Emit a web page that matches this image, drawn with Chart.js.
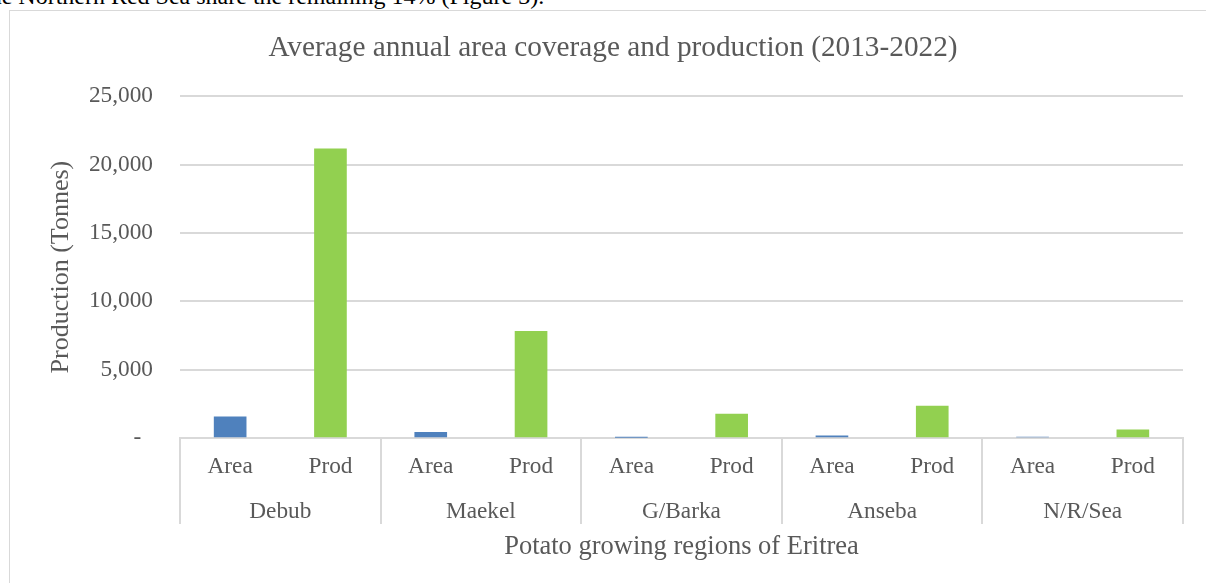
<!DOCTYPE html>
<html>
<head>
<meta charset="utf-8">
<script src="https://cdn.jsdelivr.net/npm/chart.js@4.4.1/dist/chart.umd.min.js"></script>
<style>
  html, body { margin: 0; padding: 0; background: #fff; width: 1206px; height: 583px; overflow: hidden; position: relative; }
  #lead { position: absolute; left: -17px; top: -16px; font-family: "Liberation Serif", "Times New Roman", serif; font-size: 24px; line-height: 24px; color: #000; white-space: nowrap; }
  #frame { position: absolute; left: 9px; top: 10px; width: 1206px; height: 590px; border: 1px solid #d9d9d9; background: #fff; }
  #frame canvas { display: block; }
</style>
</head>
<body>
<div id="lead">the Northern Red Sea share the remaining 14% (Figure 3).</div>
<div id="frame"><canvas id="c" width="1206" height="590"></canvas></div>
<script>
// ---- data ----
const regions = ['Debub', 'Maekel', 'G/Barka', 'Anseba', 'N/R/Sea'];
const subLabels = ['Area', 'Prod'];
const areaValues = [1550, 415, 50, 150, 70];
const prodValues = [21150, 7800, 1750, 2340, 590];
const yTicks = [0, 5000, 10000, 15000, 20000, 25000];

const chartTitle = 'Average annual area coverage and production (2013-2022)';
const yTitle = 'Production (Tonnes)';
const xTitle = 'Potato growing regions of Eritrea';

// build category slots (region x sub-label)
const slotLabels = [];
const areaData = [];
const prodData = [];
regions.forEach((r, i) => {
  slotLabels.push(subLabels[0]); areaData.push(areaValues[i]); prodData.push(null);
  slotLabels.push(subLabels[1]); areaData.push(null); prodData.push(prodValues[i]);
});

const FONT = '"Liberation Serif", "Times New Roman", serif';
const GRAY = '#595959';
const LINE = '#d9d9d9';

const groupLines = {
  id: 'groupLines',
  afterDraw(chart) {
    const xs = chart.scales.x;
    const ctx = chart.ctx;
    const slot = (xs.right - xs.left) / slotLabels.length;
    const top = chart.chartArea.bottom;
    const bottom = top + 86;
    ctx.save();
    ctx.strokeStyle = LINE;
    ctx.lineWidth = 2;
    for (let g = 0; g <= regions.length; g++) {
      const px = Math.round(xs.left + g * subLabels.length * slot);
      ctx.beginPath();
      ctx.moveTo(px, top);
      ctx.lineTo(px, bottom);
      ctx.stroke();
    }
    ctx.restore();
  }
};

new Chart(document.getElementById('c'), {
  type: 'bar',
  data: {
    labels: slotLabels,
    datasets: [
      { label: 'Area', data: areaData, backgroundColor: '#4f81bd', borderWidth: 0, grouped: false, barThickness: 32 },
      { label: 'Prod', data: prodData, backgroundColor: '#92d050', borderWidth: 0, grouped: false, barThickness: 32 }
    ]
  },
  options: {
    responsive: false,
    animation: false,
    layout: { padding: { left: 0, right: 0, top: 0, bottom: 0 } },
    plugins: {
      legend: { display: false },
      tooltip: { enabled: false },
      title: {
        display: true,
        text: chartTitle,
        color: GRAY,
        font: { family: FONT, size: 29.3, weight: 'normal' },
        padding: { top: 19.4, bottom: 30.6 }
      }
    },
    scales: {
      y: {
        min: 0,
        max: 25000,
        afterBuildTicks(scale) { scale.ticks = yTicks.map(v => ({ value: v })); },
        afterFit(scale) { scale.width = 170; },
        ticks: {
          color: GRAY,
          padding: 27,
          font: { family: FONT, size: 23.3 },
          callback: v => v === 0 ? '-  ' : Number(v).toLocaleString('en-US')
        },
        grid: { color: LINE, lineWidth: 2, drawTicks: false },
        border: { display: false },
        title: {
          display: true,
          text: yTitle,
          color: GRAY,
          font: { family: FONT, size: 26 },
          padding: { top: 35.4, bottom: 0 }
        }
      },
      yRight: {
        type: 'linear',
        position: 'right',
        display: true,
        afterFit(scale) { scale.width = 33; },
        ticks: { display: false },
        grid: { display: false, drawTicks: false },
        border: { display: false }
      },
      x: {
        weight: 0,
        afterFit(scale) { scale.height = 55; },
        ticks: {
          color: GRAY,
          padding: 15.2,
          maxRotation: 0,
          autoSkip: false,
          font: { family: FONT, size: 23.3 }
        },
        grid: { display: false, drawTicks: false },
        border: { display: true, color: LINE, width: 2 }
      },
      xGroup: {
        type: 'category',
        position: 'bottom',
        weight: 1,
        labels: regions,
        offset: true,
        afterFit(scale) { scale.height = 108; },
        ticks: {
          color: GRAY,
          padding: 4.9,
          maxRotation: 0,
          autoSkip: false,
          font: { family: FONT, size: 23.3 }
        },
        grid: { display: false, drawTicks: false },
        border: { display: false },
        title: {
          display: true,
          text: xTitle,
          color: GRAY,
          font: { family: FONT, size: 26.5 },
          padding: { top: 0, bottom: 38.4 }
        }
      }
    }
  },
  plugins: [groupLines]
});
</script>
</body>
</html>
